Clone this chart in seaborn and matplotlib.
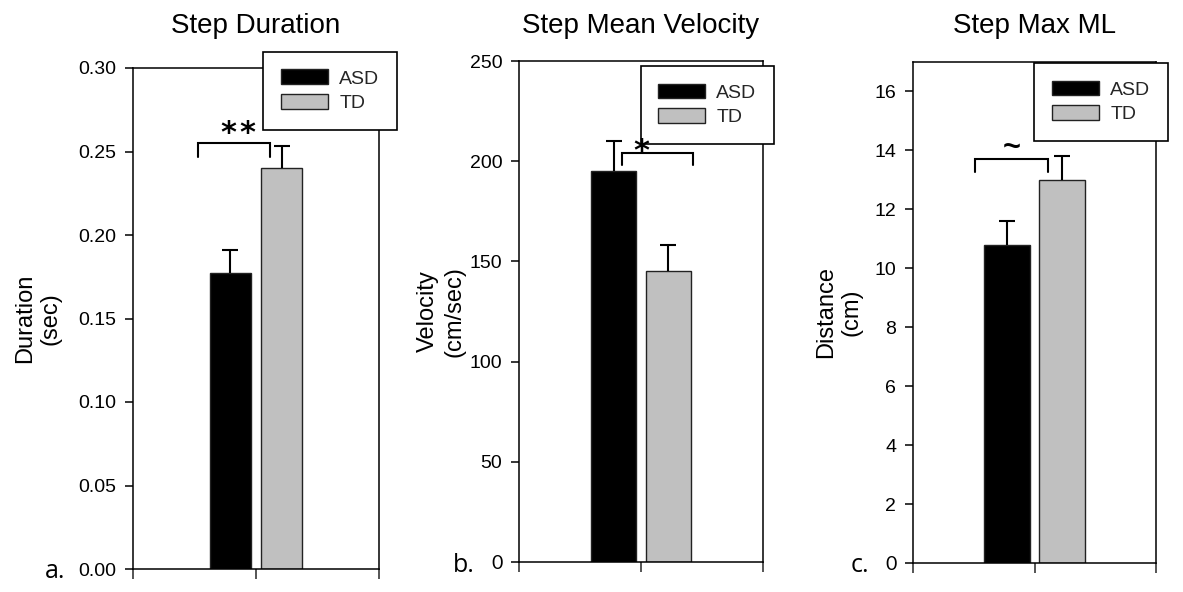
import numpy as np
import pandas as pd
import matplotlib
matplotlib.use("Agg")
import matplotlib.pyplot as plt
import matplotlib.transforms as mtransforms
import seaborn as sns

# ---- data ----
titles = ["Step Duration", "Step Mean Velocity", "Step Max ML"]
ylabels = ["Duration\n(sec)", "Velocity\n(cm/sec)", "Distance\n(cm)"]
panel_tags = ["a.", "b.", "c."]
groups = ["ASD", "TD"]
means_duration = [0.177, 0.240]
err_duration = [0.014, 0.013]
means_velocity = [195.0, 145.0]
err_velocity = [15.0, 13.0]
means_ml = [10.8, 13.0]
err_ml = [0.8, 0.8]
y_max = [0.30, 250, 17]
y_ticks = [[0.00, 0.05, 0.10, 0.15, 0.20, 0.25, 0.30],
           [0, 50, 100, 150, 200, 250],
           [0, 2, 4, 6, 8, 10, 12, 14, 16]]
y_ticklabels = [["0.00", "0.05", "0.10", "0.15", "0.20", "0.25", "0.30"],
                ["0", "50", "100", "150", "200", "250"],
                ["0", "2", "4", "6", "8", "10", "12", "14", "16"]]
sig_marks = ["*\u200a*", "*", "~"]
# bracket annotation: x-left, x-right (data units around the single category), top y, leg bottom y
bracket_x = [[-0.472, 0.114], [-0.156, 0.426], [-0.486, 0.107]]
bracket_y = [[0.2551, 0.2467], [204.2, 198.2], [13.71, 13.27]]
mark_pos = [[-0.146, 0.2558], [0.0, 200.8], [-0.19, 13.80]]

means = [means_duration, means_velocity, means_ml]
errs = [err_duration, err_velocity, err_ml]

# ---- layout / style ----
W, H = 1183, 592
axes_px = [(133, 68, 246, 501), (519, 61, 244, 501), (913, 62, 243, 501)]
bar_width = [0.83, 0.90, 0.90]
bar_gap = [0.18, 0.167, 0.167]
legend_anchor = [(1.073, 1.032), (1.045, 0.990), (1.049, 0.998)]
ylabel_x = [-0.289, -0.221, -0.206]
tag_x = [-0.358, -0.27, -0.255]
title_pad = [25, 20, 21]
palette = {"ASD": "#000000", "TD": "#c0c0c0"}
mark_family = [["DejaVu Sans"], ["DejaVu Sans"], ["Liberation Sans", "DejaVu Sans"]]

sns.set_theme(style="ticks")
plt.rcParams["font.family"] = ["Liberation Sans", "DejaVu Sans"]
plt.rcParams["axes.linewidth"] = 1.1

fig = plt.figure(figsize=(W / 100, H / 100), dpi=100)

for i in range(3):
    l, t, w, h = axes_px[i]
    ax = fig.add_axes([l / W, (H - t - h) / H, w / W, h / H])
    df = pd.DataFrame({"measure": [titles[i]] * 2, "group": groups, "value": means[i]})
    sns.barplot(data=df, x="measure", y="value", hue="group", hue_order=groups,
                palette=palette, errorbar=None, width=bar_width[i], gap=bar_gap[i],
                edgecolor="#222222", linewidth=1.0, ax=ax, legend=True)
    # error bars (upper only), positioned from the drawn bars
    xs, tops = [], []
    for cont in ax.containers:
        for p in cont.patches:
            xs.append(p.get_x() + p.get_width() / 2)
            tops.append(p.get_height())
    xs = np.array(xs)
    tops = np.array(tops)
    e = np.array(errs[i])
    ax.vlines(xs, tops, tops + e, colors="black", linewidth=1.5, zorder=3)
    ax.plot(xs, tops + e, linestyle="none", marker="_", markersize=11.5,
            markeredgewidth=1.5, color="black", zorder=3)
    ax.set_xlim(-1, 1)
    ax.set_ylim(0, y_max[i])
    ax.set_xticks([-1, 0, 1])
    ax.set_xticklabels([])
    ax.set_yticks(y_ticks[i])
    ax.set_yticklabels(y_ticklabels[i])
    ax.tick_params(axis="y", direction="out", length=6, width=1.1, pad=6,
                   labelsize=14, colors="black")
    ax.tick_params(axis="x", direction="out", length=7, width=1.1)
    for s in ax.spines.values():
        s.set_visible(True)
        s.set_color("black")
        s.set_linewidth(1.1)
    ax.set_xlabel("")
    ax.set_ylabel(ylabels[i], fontsize=17, linespacing=1.25, color="black")
    ax.yaxis.set_label_coords(ylabel_x[i], 0.5)
    ax.set_title(titles[i], fontsize=20, pad=title_pad[i], color="black")
    if i > 0:
        ax.get_yticklabels()[0].set_fontfamily(["Lato", "DejaVu Sans"])
    # panel tag
    trans = mtransforms.blended_transform_factory(ax.transAxes, ax.transData)
    ax.text(tag_x[i], 0, panel_tags[i], transform=trans, ha="left",
            va="center_baseline", fontsize=18, family=["Open Sans", "DejaVu Sans"],
            color="black", clip_on=False)
    # significance bracket
    x0, x1 = bracket_x[i]
    yt, yb = bracket_y[i]
    ax.plot([x0, x0, x1, x1], [yb, yt, yt, yb], color="black", lw=1.5,
            solid_joinstyle="miter", zorder=4)
    # legend
    leg = ax.legend(loc="upper right", bbox_to_anchor=legend_anchor[i],
                    borderaxespad=0, frameon=True, fancybox=False, framealpha=1,
                    edgecolor="black", fontsize=14, handlelength=2.4,
                    handleheight=0.78, handletextpad=0.6, labelspacing=0.35,
                    borderpad=0.9, title=None)
    leg.get_frame().set_linewidth(1.2)
    leg.set_zorder(10)
    ax.text(mark_pos[i][0], mark_pos[i][1], sig_marks[i], ha="center", va="baseline",
            fontsize=22, fontweight="bold", family=mark_family[i], color="black",
            zorder=12)

fig.savefig("out.png", dpi=100)
